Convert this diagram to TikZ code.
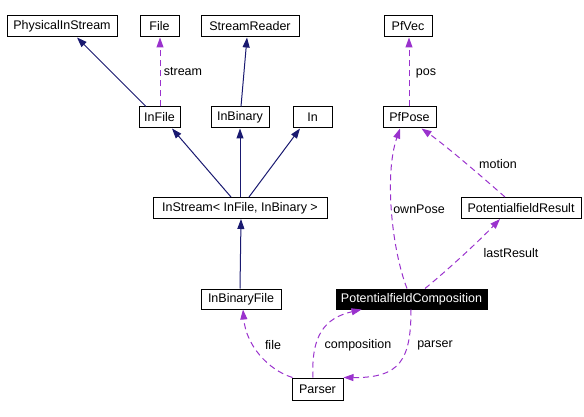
\documentclass[tikz,border=0pt]{standalone}
\usepackage{fontspec}
\setmainfont{Liberation Sans}
\usetikzlibrary{arrows.meta}
\definecolor{inheritColor}{HTML}{191970}
\definecolor{usageColor}{HTML}{9A32CD}
\newcommand{\boxHeight}[0]{21pt}
\newcommand{\lineWidth}[0]{1pt}

\begin{document}
\begin{tikzpicture}[x=1pt, y=-1pt]
  \tikzset{every node/.style={font=\fontsize{12.5}{14}\selectfont},
    classbox/.style={draw, line width=\lineWidth, minimum height=\boxHeight, inner sep=0pt},
    currentbox/.style={classbox, fill=black, text=white},
    inherit/.style={inheritColor, line width=\lineWidth, -{Triangle[length=10pt,width=7pt]}},
    usage/.style={usageColor, line width=\lineWidth, dash pattern=on 6pt off 4pt, -{Triangle[length=10pt,width=7pt]}}}
  \useasboundingbox (0,0) rectangle (584,417);
  \node[classbox, minimum width=110pt] (PhysicalInStream) at (62,26.5) {PhysicalInStream};
  \node[classbox, minimum width=39pt] (File) at (159.5,26.5) {File};
  \node[classbox, minimum width=98pt] (StreamReader) at (250,26.5) {StreamReader};
  \node[classbox, minimum width=48pt] (PfVec) at (408,26.5) {PfVec};
  \node[classbox, minimum width=41pt] (InFile) at (159.5,117.5) {InFile};
  \node[classbox, minimum width=58pt] (InBinary) at (240,117.5) {InBinary};
  \node[classbox, minimum width=39pt] (In) at (312.5,117.5) {In};
  \node[classbox, minimum width=53pt] (PfPose) at (409.5,117.5) {PfPose};
  \node[classbox, minimum width=174pt] (InStream) at (240,208) {InStream< InFile, InBinary >};
  \node[classbox, minimum width=120pt] (PfResult) at (521,208) {PotentialfieldResult};
  \node[classbox, minimum width=80pt, minimum height=20pt] (InBinaryFile) at (241,299) {InBinaryFile};
  \node[currentbox, minimum width=151pt, minimum height=20pt] (PfComp) at (411.5,299) {PotentialfieldComposition};
  \node[classbox, minimum width=51pt, minimum height=22pt] (Parser) at (317.5,389) {Parser};
  \node (stream) at (183,72) {stream};
  \node (pos) at (426,73) {pos};
  \node (motion) at (498,164) {motion};
  \node (ownPose) at (419,209) {ownPose};
  \node (lastResult) at (511,253) {lastResult};
  \node (file) at (273,345) {file};
  \node (composition) at (358,345) {composition};
  \node (parser) at (435,345) {parser};
  \draw[inherit] ([xshift=-13.5pt]InFile.north) -- ([xshift=15pt]PhysicalInStream.south);
  \draw[usage] ([xshift=0.5pt]InFile.north) -- ([xshift=0.5pt]File.south);
  \draw[inherit] ([xshift=1pt]InBinary.north) -- ([xshift=-3pt]StreamReader.south);
  \draw[inherit] ([xshift=-9pt]InStream.north) -- ([xshift=12.5pt]InFile.south);
  \draw[inherit] (InStream.north) -- (InBinary.south);
  \draw[inherit] ([xshift=9pt]InStream.north) -- ([xshift=-12.5pt]In.south);
  \draw[inherit] ([xshift=-1pt]InBinaryFile.north) -- (InBinaryFile.north |- InStream.south);
  \draw[usage] ([xshift=-0.5pt]PfPose.north) -- ([xshift=-0.5pt]PfPose.north |- PfVec.south);
  \draw[usage] ([xshift=-16pt]PfResult.north) .. controls (480,175) and (445,145) .. ([xshift=12pt]PfPose.south);
  \draw[usage] ([xshift=-4.5pt]PfComp.north) .. controls (392,250) and (384,175) .. ([xshift=-9.5pt]PfPose.south);
  \draw[usage] ([xshift=13.5pt]PfComp.north) .. controls (450,268) and (480,240) .. ([xshift=-21pt]PfResult.south);
  \draw[usage] ([xshift=-25pt]Parser.north) .. controls (268,370) and (246,345) .. ([xshift=2pt]InBinaryFile.south);
  \draw[usage] ([xshift=-4.5pt]Parser.north) .. controls (311,335) and (325,318) .. ([xshift=-50pt]PfComp.south);
  \draw[usage] ([xshift=-0.5pt]PfComp.south) .. controls (411,360) and (400,378) .. (Parser.north east);
\end{tikzpicture}
\end{document}
